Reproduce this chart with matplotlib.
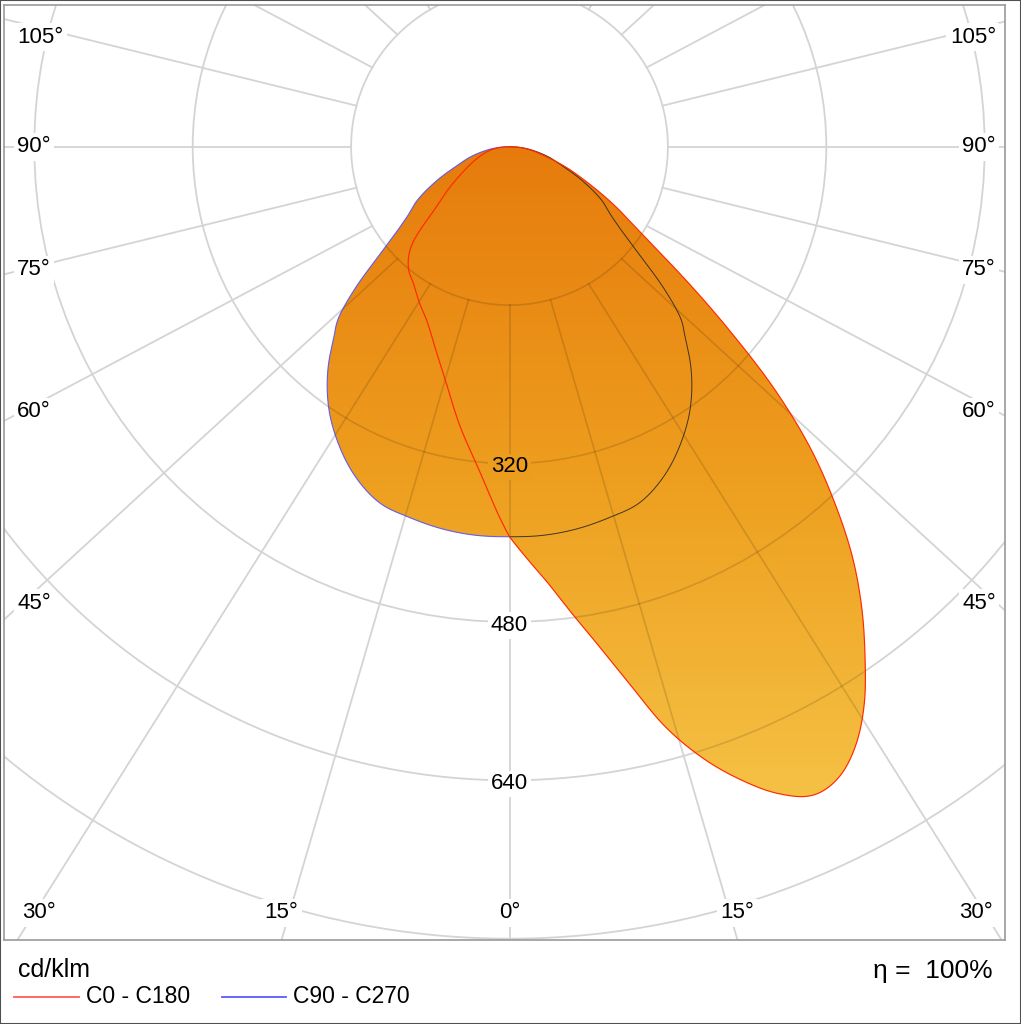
import numpy as np
import matplotlib
matplotlib.use("Agg")
import matplotlib.pyplot as plt
from matplotlib.patches import Polygon, Circle, Rectangle
from matplotlib.lines import Line2D
from matplotlib.colors import LinearSegmentedColormap

# luminous intensity distribution, cd/klm
gamma_c0 = [0, 2.5, 5, 7.5, 10, 12.5, 15, 17.5, 20, 22.5, 25, 27.5, 30, 32.5, 35,
            37.5, 40, 42.5, 45, 47.5, 50, 52.5, 55, 57.5, 60, 65, 70, 75, 80, 85, 90]
i_c0 = [394, 417, 442, 474, 510, 554, 606, 647, 680, 707, 723, 719, 699, 667, 626,
        584, 538, 485, 429, 364, 293, 232, 183, 150, 128, 89, 61, 38, 24, 12, 0]

gamma_c180 = [0, 5, 10, 15, 20, 25, 30, 35, 40, 45, 50, 55, 60, 65, 70, 75, 80, 85, 90]
i_c180 = [394, 332, 287, 247, 218, 196, 182, 169, 159, 139, 99, 76, 58, 45, 35, 27, 19, 10, 0]

gamma_c90 = [0, 5, 10, 15, 20, 25, 30, 35, 40, 42.5, 45, 47.5, 50, 52.5, 55, 60,
             65, 70, 75, 80, 85, 90]
i_c90 = [394, 394, 392, 388, 383, 368, 346, 319, 284, 263, 244, 211, 174, 147, 129, 107,
         81, 57, 42, 27, 14, 0]

ring_values = [160, 320, 480, 640, 800, 960, 1120]
ring_labels = [320, 480, 640]
spoke_angles = list(range(0, 181, 15))
side_labels = [45, 60, 75, 90, 105]
bottom_labels = [0, 15, 30]

# figure / pixel geometry
W, H = 1021, 1024
PX = 0.99                      # pixels per cd/klm
CX, CY = 509.5, 146.7          # pole position in pixels
AX_L, AX_R, AX_T, AX_B = 4, 1005, 5, 940

xmin, xmax = (AX_L - CX) / PX, (AX_R - CX) / PX
ymax, ymin = (CY - AX_T) / PX, -(AX_B - CY) / PX

GRID = '#d4d4d4'
cmap = LinearSegmentedColormap.from_list('ldc', ['#e67b0c', '#eea020', '#f6c64a'])
GRAD_BOTTOM = -700.0
PHI = np.linspace(0, 90, 721)


def smooth(gamma, inten, t=PHI):
    """Cubic Hermite (Catmull-Rom style) through the measured points."""
    x = np.asarray(gamma, float)
    y = np.asarray(inten, float)
    m = np.gradient(y, x)
    idx = np.clip(np.searchsorted(x, t, side='right') - 1, 0, len(x) - 2)
    h = x[idx + 1] - x[idx]
    s = (t - x[idx]) / h
    h00 = 2 * s**3 - 3 * s**2 + 1
    h10 = s**3 - 2 * s**2 + s
    h01 = -2 * s**3 + 3 * s**2
    h11 = s**3 - s**2
    out = h00 * y[idx] + h10 * h * m[idx] + h01 * y[idx + 1] + h11 * h * m[idx + 1]
    return np.maximum(out, 0)


def curve_xy(gamma, inten, side):
    g = np.radians(gamma)
    inten = np.asarray(inten, float)
    return side * inten * np.sin(g), -inten * np.cos(g)


def spoke(theta, side):
    t = np.radians(theta)
    p0 = np.array([side * ring_values[0] * np.sin(t), -ring_values[0] * np.cos(t)])
    d = np.array([side * 1.09 * np.sin(t), -np.cos(t)])
    return p0, d / np.hypot(*d)


def draw_grid(ax, clip=None, **kw):
    arts = []
    for r in ring_values:
        arts.append(ax.add_patch(Circle((0, 0), r, fill=False, **kw)))
    for th in spoke_angles:
        for side in (1, -1):
            if side == -1 and th in (0, 180):
                continue
            p0, d = spoke(th, side)
            p1 = p0 + 3000 * d
            arts.append(ax.add_line(Line2D([p0[0], p1[0]], [p0[1], p1[1]], **kw)))
    if clip is not None:
        for a in arts:
            a.set_clip_path(clip)


fig = plt.figure(figsize=(W / 100, H / 100), dpi=100)
ax = fig.add_axes([AX_L / W, 1 - AX_B / H, (AX_R - AX_L) / W, (AX_B - AX_T) / H])
ax.set_xticks([])
ax.set_yticks([])
for sp in ax.spines.values():
    sp.set_color('#9a9a9a')
    sp.set_linewidth(1.2)

draw_grid(ax, color=GRID, lw=1.3, zorder=1)

# smoothed planes
s_c0 = smooth(gamma_c0, i_c0)
s_c180 = smooth(gamma_c180, i_c180)
s_c90 = smooth(gamma_c90, i_c90)

# union of both planes (both are star shaped around the pole)
r_right = np.maximum(s_c0, s_c90)
r_left = np.maximum(s_c180, s_c90)
xl, yl = curve_xy(PHI[::-1], r_left[::-1], -1)
xr, yr = curve_xy(PHI, r_right, 1)
union = Polygon(np.column_stack([np.r_[xl, xr], np.r_[yl, yr]]), closed=True,
                fc='none', ec='none')
ax.add_patch(union)

grad = ax.imshow(np.linspace(0, 1, 256).reshape(-1, 1), cmap=cmap, aspect='auto',
                 extent=(xmin, xmax, GRAD_BOTTOM, 0), origin='upper', zorder=2,
                 interpolation='bilinear')
grad.set_clip_path(union)
ax.set_xlim(xmin, xmax)
ax.set_ylim(ymin, ymax)

# grid seen through the fill
draw_grid(ax, clip=union, color='black', alpha=0.13, lw=1.2, zorder=3)

# radial labels
upath = union.get_path()
for v in ring_labels:
    inside = upath.contains_point((0, -v))
    fc = cmap(v / -GRAD_BOTTOM) if inside else 'white'
    ax.text(0, -v - 3.5 / PX, str(v), ha='center', va='center', fontsize=16,
            family='Liberation Sans', zorder=4,
            bbox=dict(boxstyle='square,pad=0.12', fc=fc, ec='none'))

# angle labels
lab_kw = dict(fontsize=16, family='Liberation Sans', zorder=4, va='center',
              bbox=dict(boxstyle='square,pad=0.15', fc='white', ec='none'))
for th in side_labels:
    for side in (-1, 1):
        p0, d = spoke(th, side)
        xq = xmin + 18 / PX if side < 0 else xmax - 8 / PX
        yq = p0[1] + (xq - p0[0]) / d[0] * d[1]
        yq = min(yq, ymax - 32 / PX)
        if side < 0:
            ax.text(xmin + 13 / PX, yq, f'{th}°', ha='left', **lab_kw)
        else:
            ax.text(xmax - 9 / PX, yq, f'{th}°', ha='right', **lab_kw)
for th in bottom_labels:
    for side in ((1,) if th == 0 else (-1, 1)):
        p0, d = spoke(th, side)
        xq = p0[0] + (ymin - p0[1]) / d[1] * d[0]
        xq = min(max(xq, xmin + 35 / PX), xmax - 29 / PX)
        ax.text(xq, ymin + 27 / PX, f'{th}°', ha='center', **lab_kw)

# outlines
x90r, y90r = curve_xy(PHI, s_c90, 1)
ax.plot(x90r, y90r, color='#222222', lw=0.7, alpha=0.85, zorder=5)
x90l, y90l = curve_xy(PHI, s_c90, -1)
ax.plot(x90l, y90l, color='#4a4aff', lw=0.8, alpha=0.85, zorder=5)
x180, y180 = curve_xy(PHI, s_c180, -1)
x0, y0 = curve_xy(PHI, s_c0, 1)
ax.plot(np.r_[x180[::-1], x0], np.r_[y180[::-1], y0], color='#ff2a00', lw=0.85, zorder=6)

# footer
fkw = dict(family='Liberation Sans', color='black')
fig.text(18 / W, 1 - 977 / H, 'cd/klm', fontsize=18, va='baseline', ha='left', **fkw)
fig.text(993 / W, 1 - 978 / H, 'η =  100%', fontsize=19, va='baseline', ha='right', **fkw)
ly = 1 - 996.5 / H
fig.add_artist(Line2D([14 / W, 79 / W], [ly, ly], color='#ff5a5a', lw=1.3))
fig.text(86 / W, ly, 'C0 - C180', fontsize=16.5, va='center', ha='left', **fkw)
fig.add_artist(Line2D([222 / W, 286 / W], [ly, ly], color='#5a5aff', lw=1.3))
fig.text(293 / W, ly, 'C90 - C270', fontsize=16.5, va='center', ha='left', **fkw)

fig.add_artist(Rectangle((0, 0), 1, 1, transform=fig.transFigure, fill=False,
                         ec='#505050', lw=1.5))

fig.savefig('out.png', dpi=100, facecolor='white')
